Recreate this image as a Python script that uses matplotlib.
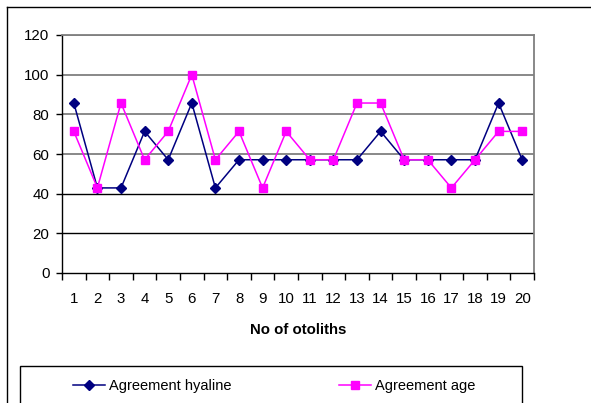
import matplotlib.pyplot as plt
from matplotlib.lines import Line2D
from matplotlib.patches import Rectangle
import numpy as np

plt.rcParams['font.family'] = ['Liberation Sans', 'DejaVu Sans']

otoliths = list(range(1, 21))
hyaline = [85.7, 42.9, 42.9, 71.4, 57.1, 85.7, 42.9, 57.1, 57.1, 57.1,
           57.1, 57.1, 57.1, 71.4, 57.1, 57.1, 57.1, 57.1, 85.7, 57.1]
age = [71.4, 42.9, 85.7, 57.1, 71.4, 100, 57.1, 71.4, 42.9, 71.4,
       57.1, 57.1, 85.7, 85.7, 57.1, 57.1, 42.9, 57.1, 71.4, 71.4]
yticks = [0, 20, 40, 60, 80, 100, 120]

W, H = 591, 403
fig = plt.figure(figsize=(W / 100, H / 100), dpi=100)
ax = fig.add_axes([62 / W, 1 - 273 / H, (534 - 62) / W, (273 - 35) / H])

# gridlines
for y in yticks[1:]:
    c = 'black' if y <= 40 else '#7f7f7f'
    ax.axhline(y, color=c, lw=1.0 if y <= 40 else 1.3, zorder=1)

ax.plot(otoliths, hyaline, color='#000080', marker='D', ms=5, lw=1.1,
        label='Agreement hyaline', zorder=3)
ax.plot(otoliths, age, color='#ff00ff', marker='s', ms=5.8, lw=1.1,
        label='Agreement age', zorder=3)

ax.set_xlim(0.5, 20.5)
ax.set_ylim(0, 120)
ax.set_yticks(yticks)
ax.set_xticks(otoliths)
ax.set_xticks(np.arange(0.5, 21, 1), minor=True)
ax.tick_params(axis='x', which='major', length=0, labelsize=10.8, pad=14)
ax.tick_params(axis='x', which='minor', length=5, width=1, color='black')
ax.tick_params(axis='y', length=4, width=1, labelsize=10.8, pad=5)
ax.set_xlabel('No of otoliths', fontsize=10.8, fontweight='bold', labelpad=12)

for s in ['left', 'bottom']:
    ax.spines[s].set_color('black')
    ax.spines[s].set_linewidth(1)
for s in ['top', 'right']:
    ax.spines[s].set_color('#7f7f7f')
    ax.spines[s].set_linewidth(1.3)

# outer frame (chart area border)
fig.add_artist(Line2D([7 / W, 1], [1 - 7 / H, 1 - 7 / H], color='black', lw=1))
fig.add_artist(Line2D([7 / W, 7 / W], [0, 1 - 7 / H], color='black', lw=1))

# legend box
fig.add_artist(Rectangle((20 / W, -0.05), (522 - 20) / W, 0.05 + (403 - 366) / H,
                         transform=fig.transFigure, fill=False, ec='black', lw=1))
fig.legend(loc='center left', bbox_to_anchor=(73 / W, 1 - 386 / H), ncol=2,
           frameon=False, fontsize=10.5, handlelength=2.2, handletextpad=0.25,
           columnspacing=7.4, borderaxespad=0, borderpad=0)

fig.savefig('out.png', dpi=100)
